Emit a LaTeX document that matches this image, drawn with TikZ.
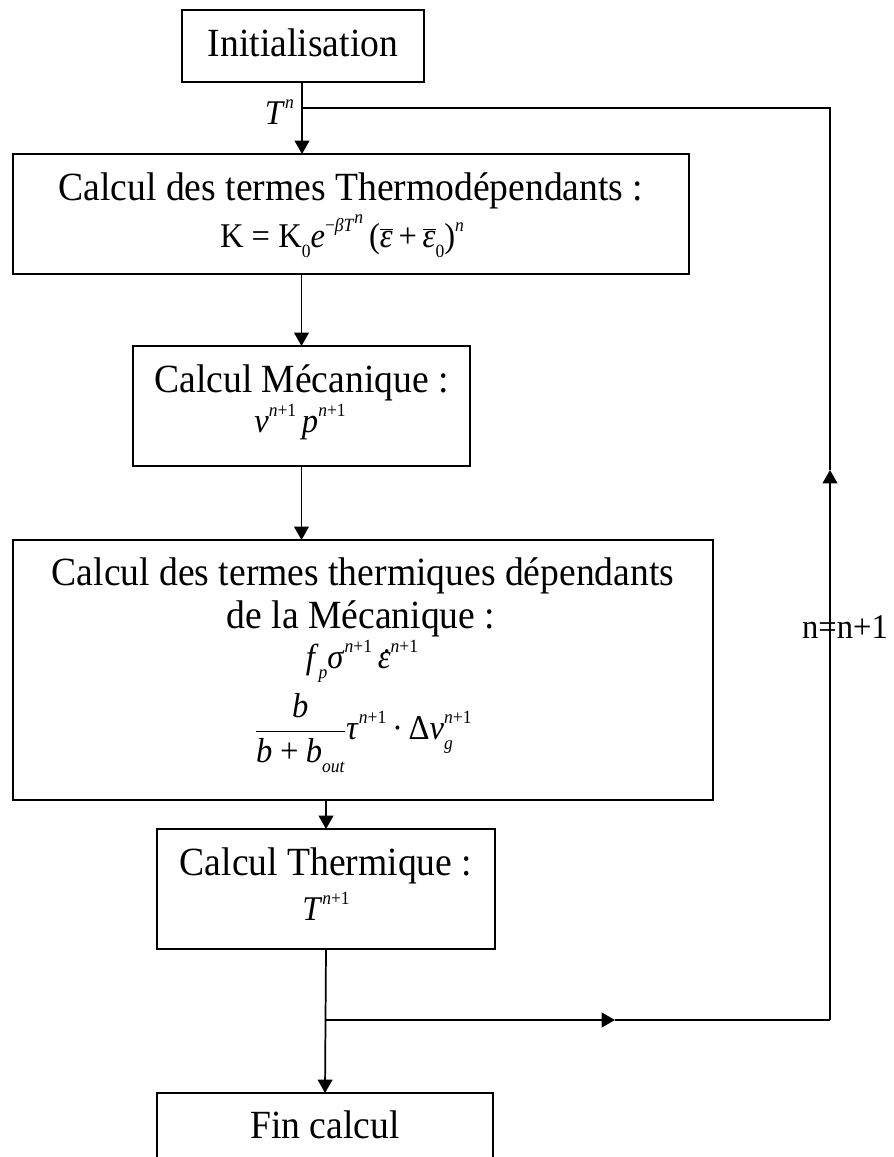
\documentclass[tikz,border=0pt]{standalone}
\usepackage{fontspec}
\setmainfont{Liberation Serif}[FakeStretch=0.94]
\usetikzlibrary{arrows.meta}

\newcommand\sups[1]{\raisebox{0.45em}{\fontsize{14}{14}\selectfont #1}}
\newcommand\subs[1]{\raisebox{-0.3em}{\fontsize{14}{14}\selectfont #1}}
\newcommand\ebar{$\overline{\mbox{\itshape ε}}$}
\newcommand\edot{\rlap{\hspace{0.1em}\raisebox{-0.12em}{˙}}\textit{ε}}

\tikzset{every picture/.style={line width=1.3pt}}
\tikzset{
	stepbox/.style={draw, inner sep=0pt, outer sep=0pt},
	steptext/.style={anchor=base, inner sep=1pt, font=\fontsize{30}{36}\selectfont},
	formula/.style={anchor=base, inner sep=1pt, font=\fontsize{26}{30}\selectfont},
	conn/.style={-{Triangle[length=10pt,width=11pt]}}}

\begin{document}
\begin{tikzpicture}[x=0.75pt,y=0.75pt,yscale=-1,xscale=1]
	\useasboundingbox (0,0) rectangle (893,1157);

	%Shape: Rectangle [init]
	\node[stepbox, minimum width=181.5pt, minimum height=54pt] (init) at (303,46) {};
	%Shape: Rectangle [thermo]
	\node[stepbox, minimum width=507pt, minimum height=90pt] (thermo) at (351,214) {};
	%Shape: Rectangle [meca]
	\node[stepbox, minimum width=252.75pt, minimum height=90pt] (meca) at (301.5,406) {};
	%Shape: Rectangle [thmeca]
	\node[stepbox, minimum width=525pt, minimum height=195pt] (thmeca) at (363,670) {};
	%Shape: Rectangle [therm]
	\node[stepbox, minimum width=253.5pt, minimum height=90pt] (therm) at (326,889) {};
	%Shape: Rectangle [fin]
	\node[stepbox, minimum width=252pt, minimum height=57.75pt] (fin) at (325,1131.5) {};

	% Text Node
	\node[steptext] (initT) at (303,56) {Initialisation};
	% Text Node
	\node[steptext] (thermoT) at (351,200) {Calcul des termes Thermodépendants :};
	% Text Node
	\node[formula] (thermoF) at (342,247) {K = K\subs{0}\textit{e}\sups{−\textit{βT}\sups{\textit{n}}}\,(\ebar\,+\,\ebar\subs{0})\sups{\textit{n}}};
	% Text Node
	\node[steptext] (mecaT) at (301.5,392) {Calcul Mécanique :};
	% Text Node
	\node[formula] (mecaF) at (300,432) {\textit{v}\sups{\textit{n}+1}\,\textit{p}\sups{\textit{n}+1}};
	% Text Node
	\node[steptext] (thmecaT) at (363,585) {Calcul des termes thermiques dépendants};
	% Text Node
	\node[steptext] (thmecaU) at (361,628) {de la Mécanique :};
	% Text Node
	\node[formula] (thmecaF) at (362,668) {\textit{f}\subs{\textit{p}}\textit{σ}\sups{\textit{n}+1}\,\edot\sups{\textit{n}+1}};
	% Text Node
	\node[formula, anchor=center] (thmecaG) at (363,733) {$\displaystyle\frac{\mbox{\itshape b}}{\mbox{\itshape b\,+\,b\subs{out}}}$\textit{τ}\sups{\textit{n}+1}\,·\,Δ\textit{v}\rlap{\subs{\textit{g}}}\sups{\textit{n}+1}};
	% Text Node
	\node[steptext] (thermT) at (326,875) {Calcul Thermique :};
	% Text Node
	\node[formula] (thermF) at (326,920) {\textit{T}\sups{\textit{n}+1}};
	% Text Node
	\node[steptext] (finT) at (325,1138) {Fin calcul};
	% Text Node
	\node[formula, anchor=base east] (tn) at (296,124) {\textit{T}\sups{\textit{n}}};
	% Text Node
	\node[anchor=base, inner sep=1pt, font=\fontsize{26}{30}\selectfont] (incr) at (845,638) {n=n+1};

	\coordinate (branch) at (302,108);
	\coordinate (cornTR) at (830,108);
	\coordinate (midR) at (830,470);
	\coordinate (cornBR) at (830,1020);
	\coordinate (midB) at (615,1020);
	\coordinate (junc) at (326,1020);

	%Straight Lines
	\draw[conn] (init.south -| branch) -- (branch |- thermo.north);
	\draw[conn] (meca.north |- thermo.south) -- (meca.north);
	\draw[conn] (meca.south) -- (meca.south |- thmeca.north);
	\draw[conn] (therm.north |- thmeca.south) -- (therm.north);
	\draw[conn] (therm.south) -- (fin.north);
	%Straight Lines
	\draw[conn] (junc) -- (midB);
	\draw (midB) -- (cornBR);
	\draw[conn] (cornBR) -- (midR);
	\draw (midR) -- (cornTR) -- (branch);
\end{tikzpicture}
\end{document}
